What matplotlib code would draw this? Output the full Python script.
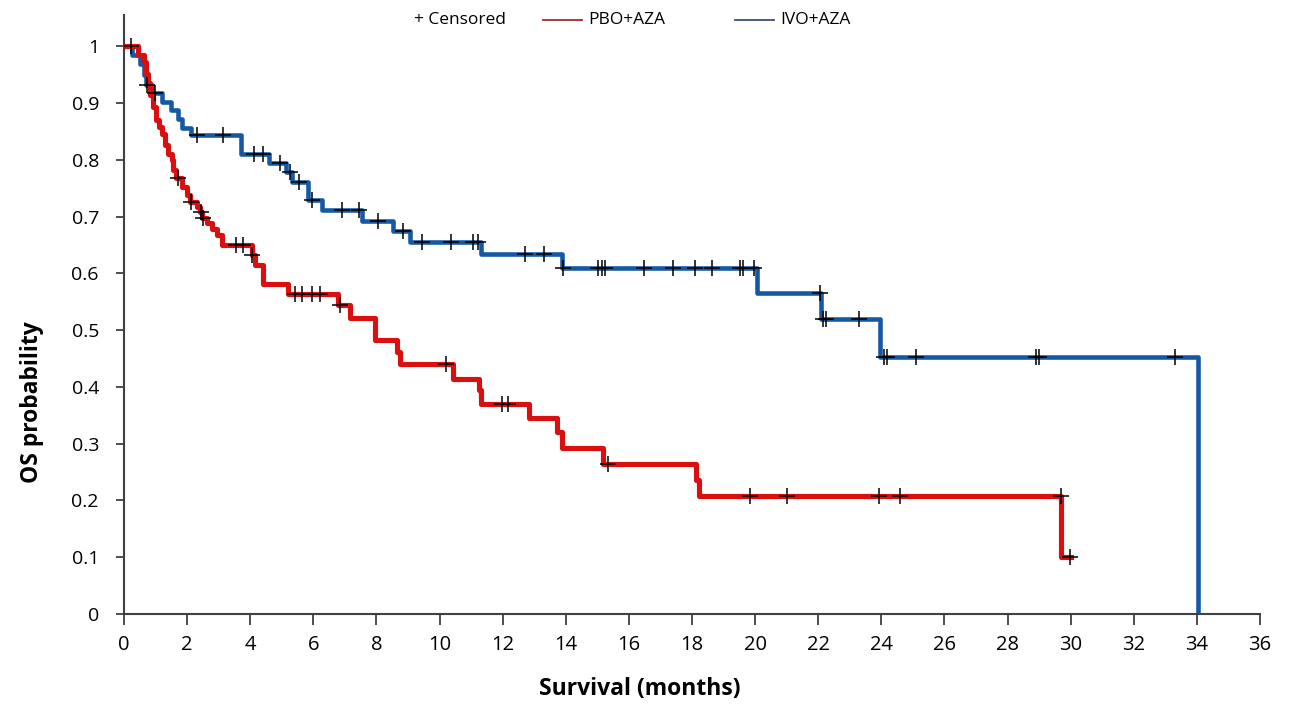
import numpy as np
import matplotlib
matplotlib.use("Agg")
import matplotlib.pyplot as plt
from matplotlib.lines import Line2D

# ===== data =====
# IVO+AZA: step times (months) and survival after each step
ivo_times = [0, 0.24, 0.50, 0.62, 0.70, 0.90, 1.22, 1.48, 1.70, 1.83, 2.14,
             3.70, 4.61, 5.15, 5.34, 5.84, 6.29, 7.53, 8.51, 9.06, 11.30,
             13.87, 20.07, 22.10, 23.97, 34.05]
ivo_surv = [1.0, 0.984, 0.968, 0.950, 0.932, 0.918, 0.902, 0.887, 0.871, 0.856, 0.843,
            0.811, 0.794, 0.779, 0.761, 0.729, 0.712, 0.693, 0.675, 0.656, 0.634,
            0.610, 0.566, 0.520, 0.453, 0.0]
ivo_censor = [0.22, 0.72, 0.98, 2.32, 3.13, 4.12, 4.41, 4.94, 5.26, 5.55, 5.95,
              6.92, 7.46, 8.06, 8.83, 9.46, 10.36, 11.07, 11.23, 12.71, 13.32,
              13.92, 15.03, 15.14, 15.24, 16.49, 17.39, 18.11, 18.64, 19.52, 19.62,
              19.98, 22.07, 22.15, 22.26, 23.30, 24.08, 24.19, 25.10, 28.89, 29.00,
              33.30]

# PBO+AZA
pbo_times = [0, 0.45, 0.62, 0.70, 0.76, 0.84, 0.93, 1.03, 1.12, 1.19,
             1.30, 1.38, 1.51, 1.56, 1.65, 1.85, 1.99, 2.08, 2.30, 2.40,
             2.48, 2.62, 2.78, 2.94, 3.10, 4.05, 4.15, 4.41, 5.21, 6.79,
             7.16, 7.95, 8.66, 8.75, 10.44, 11.26, 11.33, 12.84, 13.72, 13.87,
             15.17, 18.14, 18.23, 29.71, 30.0]
pbo_surv = [1.0, 0.984, 0.972, 0.952, 0.935, 0.914, 0.893, 0.870, 0.858, 0.846,
            0.826, 0.811, 0.799, 0.782, 0.768, 0.752, 0.738, 0.726, 0.717, 0.708,
            0.697, 0.688, 0.679, 0.667, 0.650, 0.632, 0.614, 0.582, 0.564, 0.544,
            0.521, 0.482, 0.462, 0.440, 0.414, 0.394, 0.370, 0.345, 0.320, 0.292,
            0.264, 0.236, 0.207, 0.101, 0.101]
pbo_censor = [1.72, 2.14, 2.44, 2.50, 3.55, 3.78, 4.07, 5.42, 5.63, 5.95, 6.21,
              6.84, 10.20, 11.97, 12.18, 15.35, 19.83, 21.00, 23.93, 24.59,
              29.68, 29.97]

x_ticks = list(range(0, 37, 2))
y_ticks = [0, 0.1, 0.2, 0.3, 0.4, 0.5, 0.6, 0.7, 0.8, 0.9, 1]
y_tick_labels = ["0", "0.1", "0.2", "0.3", "0.4", "0.5", "0.6", "0.7", "0.8", "0.9", "1"]

RED = "#d9100f"
BLUE = "#1559a5"
FONT = ["Open Sans", "DejaVu Sans"]


def censor_levels(times, surv, censor):
    """survival value of the step curve at each censor time"""
    idx = np.searchsorted(np.array(times), np.array(censor), side="right") - 1
    return np.array(surv)[idx]


fig = plt.figure(figsize=(12.9, 7.12), dpi=100)
ax = fig.add_axes([0.0961, 0.1376, 0.8806, 0.8413])

ax.step(ivo_times, ivo_surv, where="post", color=BLUE, lw=3.3, zorder=2)
ax.step(pbo_times, pbo_surv, where="post", color=RED, lw=3.7, zorder=3)

ax.plot(ivo_censor, censor_levels(ivo_times, ivo_surv, ivo_censor), ls="none",
        marker="+", ms=11, mew=1.1, color="black", zorder=4)
ax.plot(pbo_censor, censor_levels(pbo_times, pbo_surv, pbo_censor), ls="none",
        marker="+", ms=11, mew=1.1, color="black", zorder=4)

ax.set_xlim(0, 36)
ax.set_ylim(0, 1.055)
ax.set_xticks(x_ticks)
ax.set_xticklabels([str(t) for t in x_ticks], family=FONT, fontsize=14.5)
ax.set_yticks(y_ticks)
ax.set_yticklabels(y_tick_labels, family=FONT, fontsize=14)
ax.tick_params(axis="x", direction="out", length=8, width=1.3, pad=7, color="#404040")
ax.tick_params(axis="y", direction="out", length=6, width=1.3, pad=12, color="#404040")

for side in ["top", "right"]:
    ax.spines[side].set_visible(False)
for side in ["left", "bottom"]:
    ax.spines[side].set_color("#404040")
    ax.spines[side].set_linewidth(1.5)

fig.text(0.025, 0.435, "OS probability", rotation=90, ha="center", va="center",
         fontsize=16.5, fontweight="bold", family=FONT)
fig.text(0.496, 0.032, "Survival (months)", ha="center", va="center",
         fontsize=16.5, fontweight="bold", family=FONT)

# legend row at the top
fig.text(0.321, 0.972, "+ Censored", ha="left", va="center", fontsize=12.5, family=FONT)
fig.add_artist(Line2D([0.421, 0.451], [0.972, 0.972], transform=fig.transFigure,
                      color="#a8292b", lw=1.3))
fig.text(0.456, 0.972, "PBO+AZA", ha="left", va="center", fontsize=12.5, family=FONT)
fig.add_artist(Line2D([0.570, 0.600], [0.972, 0.972], transform=fig.transFigure,
                      color="#3f4d78", lw=1.3))
fig.text(0.605, 0.972, "IVO+AZA", ha="left", va="center", fontsize=12.5, family=FONT)

fig.savefig("out.png", dpi=100)
